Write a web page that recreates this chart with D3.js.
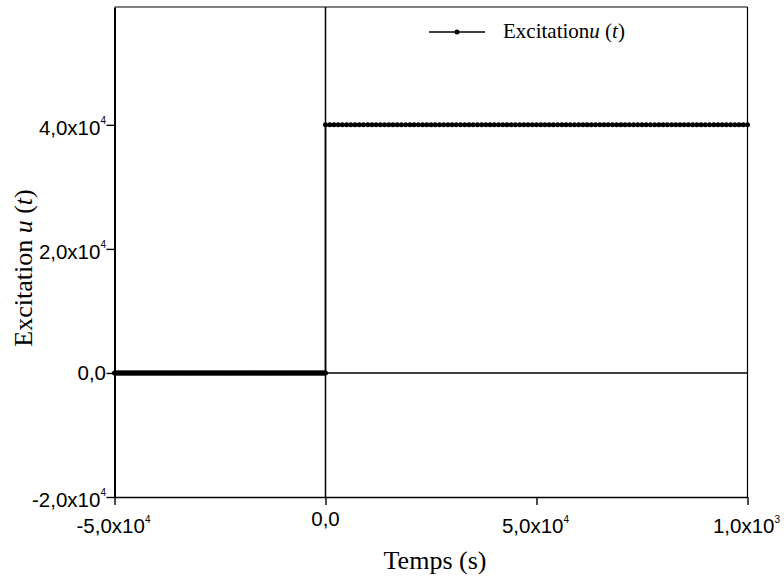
<!DOCTYPE html>
<html><head><meta charset="utf-8">
<script src="https://cdn.jsdelivr.net/npm/d3@7"></script>
<style>body{margin:0;background:#fff}svg{display:block}</style>
</head><body>
<svg id="c" width="784" height="581"></svg>
<script>
// ---- data ----
const segmentStart = [-50000, 0];       // s
const segmentEnd   = [0, 100000];       // s
const segmentLevel = [0, 40000];        // excitation value on each segment
const segmentStep  = [250, 1000];       // sampling interval of the markers (s)
const xTickValues = [-50000, 0, 50000, 100000];
const xTickMant   = ["-5,0x10", "0,0", "5,0x10", "1,0x10"];
const xTickExp    = ["4", "", "4", "3"];
const yTickValues = [-20000, 0, 20000, 40000];
const yTickMant   = ["-2,0x10", "0,0", "2,0x10", "4,0x10"];
const yTickExp    = ["4", "", "4", "4"];
const xDomain = [-50000, 100000];
const yDomain = [-20000, 59000];

// build series points from the segments (constant level per segment)
const series = [];
segmentStart.forEach((s, i) => {
  for (let t = s; t <= segmentEnd[i] + 1e-9; t += segmentStep[i]) series.push({t, v: segmentLevel[i]});
});

const svg = d3.select("#c");
const L = 114.5, R = 747.5, T = 7, B = 497;
const x = d3.scaleLinear().domain(xDomain).range([L, R]);
const y = d3.scaleLinear().domain(yDomain).range([B, T]);
const tickFont = "'Liberation Sans', Arial, sans-serif";
const serif = "'Liberation Serif', 'Times New Roman', serif";
const FS = 20.5;

// frame top/right thin
svg.append("line").attr("x1", L).attr("x2", R).attr("y1", T).attr("y2", T).attr("stroke", "#000").attr("stroke-width", 1.2);
svg.append("line").attr("x1", R).attr("x2", R).attr("y1", T).attr("y2", B).attr("stroke", "#000").attr("stroke-width", 1.2);

// zero lines
svg.append("line").attr("x1", L).attr("x2", R).attr("y1", y(0)).attr("y2", y(0)).attr("stroke", "#000").attr("stroke-width", 1.5);
svg.append("line").attr("x1", x(0)).attr("x2", x(0)).attr("y1", T).attr("y2", B).attr("stroke", "#000").attr("stroke-width", 1.5);

// axes
const xAxis = d3.axisBottom(x).tickValues(xTickValues).tickSize(8).tickSizeOuter(0).tickFormat("");
const gx = svg.append("g").attr("transform", `translate(0,${B})`).call(xAxis);
gx.select(".domain").attr("stroke-width", 1.6);
gx.selectAll(".tick line").attr("stroke-width", 1.4);
const yAxis = d3.axisLeft(y).tickValues(yTickValues).tickSize(8).tickSizeOuter(0).tickFormat("");
const gy = svg.append("g").attr("transform", `translate(${L},0)`).call(yAxis);
gy.select(".domain").attr("stroke-width", 2);
gy.selectAll(".tick line").attr("stroke-width", 1.4);

// x tick labels
xTickValues.forEach((v, i) => {
  const hasExp = xTickExp[i] !== "";
  const tx = svg.append("text").attr("font-family", tickFont).attr("font-size", FS)
    .attr("text-anchor", "middle").attr("x", x(v) + (hasExp ? -1 : 0)).attr("y", hasExp ? 533 : 526);
  tx.append("tspan").text(xTickMant[i]);
  if (hasExp) tx.append("tspan").attr("font-size", 10).attr("dy", -10).attr("dx", 0).text(xTickExp[i]);
});
// y tick labels
yTickValues.forEach((v, i) => {
  const hasExp = yTickExp[i] !== "";
  const tx = svg.append("text").attr("font-family", tickFont).attr("font-size", FS)
    .attr("text-anchor", "end").attr("x", 106).attr("y", y(v) + (hasExp ? 10 : 7));
  tx.append("tspan").text(yTickMant[i]);
  if (hasExp) tx.append("tspan").attr("font-size", 10).attr("dy", -11).attr("dx", 0).text(yTickExp[i]);
});

// series line and markers
svg.append("path").datum(series)
  .attr("d", d3.line().x(d => x(d.t)).y(d => y(d.v)))
  .attr("fill", "none").attr("stroke", "#000").attr("stroke-width", 1.5);
svg.append("g").selectAll("circle").data(series).join("circle")
  .attr("cx", d => x(d.t)).attr("cy", d => y(d.v)).attr("r", 2.5).attr("fill", "#000");

// axis titles
svg.append("text").attr("font-family", serif).attr("font-size", 26)
  .attr("text-anchor", "middle").attr("x", 435).attr("y", 569).text("Temps (s)");
const yt = svg.append("text").attr("font-family", serif).attr("font-size", 26)
  .attr("text-anchor", "middle").attr("transform", "translate(32,268) rotate(-90)");
yt.append("tspan").text("Excitation ");
yt.append("tspan").attr("font-style", "italic").text("u");
yt.append("tspan").text(" (");
yt.append("tspan").attr("font-style", "italic").text("t");
yt.append("tspan").text(")");

// legend
svg.append("line").attr("x1", 429).attr("x2", 485).attr("y1", 32).attr("y2", 32).attr("stroke", "#000").attr("stroke-width", 1.5);
svg.append("circle").attr("cx", 457).attr("cy", 32).attr("r", 2.5).attr("fill", "#000");
const lt = svg.append("text").attr("font-family", serif).attr("font-size", 21).attr("x", 503).attr("y", 38);
lt.append("tspan").text("Excitation");
lt.append("tspan").attr("font-style", "italic").text("u");
lt.append("tspan").text(" (");
lt.append("tspan").attr("font-style", "italic").text("t");
lt.append("tspan").text(")");
</script>
</body></html>
